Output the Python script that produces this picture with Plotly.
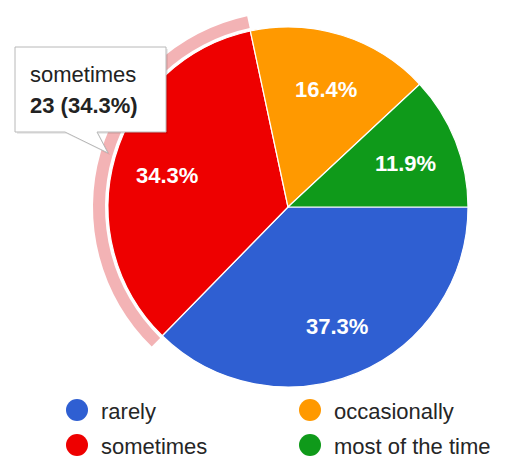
import math
import plotly.graph_objects as go

# Survey responses
categories = ["rarely", "sometimes", "occasionally", "most of the time"]
counts = [25, 23, 11, 8]
colors = ["#2f5fd2", "#ee0000", "#ff9900", "#0f9a1a"]
highlighted = "sometimes"

W, H = 510, 461
FONT = "Liberation Sans, Arial, sans-serif"

# Pie geometry in pixels (top-left origin)
CX, CY, R = 288, 207, 180
START_DEG = 90  # first slice starts at 3 o'clock, runs clockwise
LABEL_FRAC = 0.70


def px_domain(x0, x1, y0, y1):
    """Convert a pixel box (top-left origin) to a paper domain."""
    return dict(x=[x0 / W, x1 / W], y=[1 - y1 / H, 1 - y0 / H])


fig = go.Figure()

# Highlight ring around the hovered slice
ring_colors = ["#f3b3b5" if c == highlighted else "rgba(0,0,0,0)" for c in categories]
fig.add_trace(go.Pie(
    labels=categories, values=counts, sort=False, direction="clockwise",
    rotation=START_DEG, hole=183 / 195,
    domain=px_domain(CX - 195, CX + 195, CY - 195, CY + 195),
    marker=dict(colors=ring_colors, line=dict(width=0)),
    textinfo="none", hoverinfo="skip", showlegend=False,
))

# Main pie
fig.add_trace(go.Pie(
    labels=categories, values=counts, sort=False, direction="clockwise",
    rotation=START_DEG, domain=px_domain(CX - R, CX + R, CY - R, CY + R),
    marker=dict(colors=colors, line=dict(color="white", width=1.2)),
    textinfo="none", hoverinfo="skip", showlegend=False,
))

annotations = []

# Percentage labels placed along each slice's bisector
total = sum(counts)
acc = 0
for n in counts:
    mid = math.radians(START_DEG + (acc + n / 2) / total * 360)
    acc += n
    annotations.append(dict(
        x=CX + LABEL_FRAC * R * math.sin(mid),
        y=CY - LABEL_FRAC * R * math.cos(mid) + 3,
        xref="x", yref="y", text=f"<b>{n / total * 100:.1f}%</b>",
        showarrow=False, xanchor="center", yanchor="middle",
        font=dict(family=FONT, size=22, color="white"),
    ))

# Legend drawn as two columns of large dots with labels
leg_x = [77, 77, 310, 310]
leg_y = [410, 445, 410, 445]
for name, color, lx, ly in zip(categories, colors, leg_x, leg_y):
    fig.add_trace(go.Scatter(
        x=[lx], y=[ly], mode="markers",
        marker=dict(size=22, color=color, line=dict(width=0)),
        xaxis="x", yaxis="y", hoverinfo="skip", showlegend=False,
        cliponaxis=False,
    ))
    annotations.append(dict(
        x=lx + 23, y=ly + 1, xref="x", yref="y", text=name, showarrow=False,
        xanchor="left", yanchor="middle", borderpad=0,
        font=dict(family=FONT, size=22, color="#262626"),
    ))

# Tooltip for the highlighted slice
idx = categories.index(highlighted)
tip_value = f"{counts[idx]} ({counts[idx] / total * 100:.1f}%)"
annotations += [
    dict(x=28, y=74, xref="x", yref="y", text=highlighted, showarrow=False,
         xanchor="left", yanchor="middle",
         font=dict(family=FONT, size=22, color="#222222")),
    dict(x=28, y=105, xref="x", yref="y", text=f"<b>{tip_value}</b>",
         showarrow=False, xanchor="left", yanchor="middle",
         font=dict(family=FONT, size=22, color="#222222")),
]

box = "M15,47 H166 V132 H97 L108,153 L65,132 H15 Z"
shadow = "M17,49 H168 V134 H99 L110,155 L67,134 H17 Z"

fig.update_layout(
    width=W, height=H,
    margin=dict(l=0, r=0, t=0, b=0),
    paper_bgcolor="white", plot_bgcolor="rgba(0,0,0,0)",
    xaxis=dict(range=[0, W], visible=False, fixedrange=True, domain=[0, 1]),
    yaxis=dict(range=[H, 0], visible=False, fixedrange=True, domain=[0, 1]),
    shapes=[
        dict(type="path", path=shadow, xref="x", yref="y",
             fillcolor="rgba(0,0,0,0.08)", line=dict(width=0), layer="above"),
        dict(type="path", path=box, xref="x", yref="y",
             fillcolor="white", line=dict(color="#b8b8b8", width=1), layer="above"),
    ],
    annotations=annotations,
)

fig.write_html("out.html")
